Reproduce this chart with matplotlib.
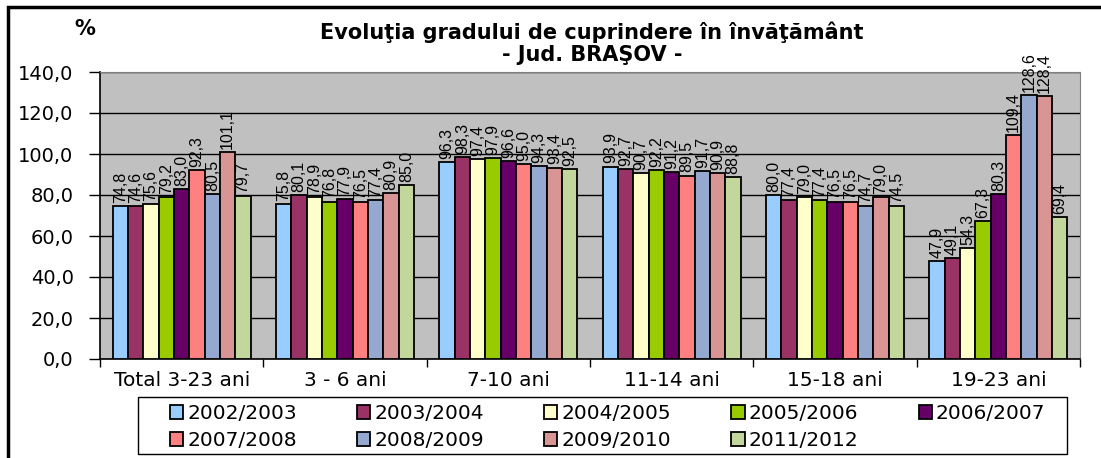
import numpy as np
import matplotlib
matplotlib.use("Agg")
import matplotlib.pyplot as plt
from matplotlib.patches import Rectangle

plt.rcParams['font.family'] = ['DejaVu Sans']

categories = ["Total 3-23 ani", "3 - 6 ani", "7-10 ani", "11-14 ani", "15-18 ani", "19-23 ani"]
years = ["2002/2003", "2003/2004", "2004/2005", "2005/2006", "2006/2007",
         "2007/2008", "2008/2009", "2009/2010", "2011/2012"]

# one list per school year, values per age group
y2002 = [74.8, 75.8, 96.3, 93.9, 80.0, 47.9]
y2003 = [74.6, 80.1, 98.3, 92.7, 77.4, 49.1]
y2004 = [75.6, 78.9, 97.4, 90.7, 79.0, 54.3]
y2005 = [79.2, 76.8, 97.9, 92.2, 77.4, 67.3]
y2006 = [83.0, 77.9, 96.6, 91.2, 76.5, 80.3]
y2007 = [92.3, 76.5, 95.0, 89.5, 76.5, 109.4]
y2008 = [80.5, 77.4, 94.3, 91.7, 74.7, 128.6]
y2009 = [101.1, 80.9, 93.4, 90.9, 79.0, 128.4]
y2011 = [79.7, 85.0, 92.5, 88.8, 74.5, 69.4]
series = [y2002, y2003, y2004, y2005, y2006, y2007, y2008, y2009, y2011]

colors = ["#99CCFF", "#993366", "#FFFFCC", "#99CC00", "#660066",
          "#FF8080", "#95A9D0", "#D99594", "#C3D69B"]

W, H = 1101, 458
fig = plt.figure(figsize=(W / 100, H / 100), dpi=100)
ax = fig.add_axes([100 / W, 1 - 359 / H, 980 / W, 287 / H])
ax.set_facecolor("#C0C0C0")

x = np.arange(len(categories))
bw = 0.094
n = len(series)
bars = []
for i, vals in enumerate(series):
    pos = x - bw * (n - 1) / 2 + i * bw
    b = ax.bar(pos, vals, width=bw, color=colors[i], edgecolor="black",
               linewidth=1.3, label=years[i], zorder=3)
    bars.append(b)
    for px, v in zip(pos, vals):
        ax.text(px, v + 1.5, f"{v:.1f}".replace(".", ","), rotation=90,
                ha="center", va="bottom", fontsize=11.5, zorder=4,
                family="Liberation Sans")

ax.set_ylim(0, 140)
ax.set_xlim(-0.5, len(categories) - 0.5)
yt = np.arange(0, 141, 20)
ax.set_yticks(yt)
ax.set_yticklabels([f"{v:.1f}".replace(".", ",") for v in yt], fontsize=14)
ax.yaxis.grid(True, color="black", linewidth=1, zorder=1)
ax.set_axisbelow(True)

ax.set_xticks(x)
ax.set_xticklabels(categories, fontsize=14.5)
ax.set_xticks(np.arange(-0.5, len(categories)), minor=True)
ax.tick_params(axis="x", which="major", length=0, pad=9)
ax.tick_params(axis="x", which="minor", length=6, width=1, direction="out")
ax.tick_params(axis="y", length=8, width=1, direction="out", pad=11)

for s in ["top", "right"]:
    ax.spines[s].set_color("#808080")
ax.spines["left"].set_linewidth(1.2)
ax.spines["bottom"].set_linewidth(1.2)

fig.text(592 / W, 1 - 32 / H, "Evoluţia gradului de cuprindere în învăţământ",
         ha="center", va="center", fontsize=15, fontweight="bold")
fig.text(592 / W, 1 - 55 / H, "- Jud. BRAŞOV -",
         ha="center", va="center", fontsize=15, fontweight="bold")
fig.text(85 / W, 1 - 29 / H, "%", ha="center", va="center", fontsize=15, fontweight="bold")

# legend filled row by row: 5 years on the first row, 4 on the second
order = [0, 5, 1, 6, 2, 7, 3, 8, 4]
leg = fig.legend([bars[k] for k in order], [years[k] for k in order],
                 loc="center left", ncol=5, bbox_to_anchor=(170 / W, 1 - 427 / H),
                 fontsize=14.5, frameon=False, borderpad=0, borderaxespad=0,
                 handlelength=0.65, handleheight=0.65, handletextpad=0.2,
                 labelspacing=0.4, columnspacing=3.0)
fig.patches.append(Rectangle((138 / W, 1 - 454 / H), 929 / W, 57 / H,
                             transform=fig.transFigure, fill=False,
                             edgecolor="black", linewidth=1))

# outer frame of the figure box
fig.patches.append(Rectangle((8 / W, -0.1), 1.2, 1 - 7 / H + 0.1, transform=fig.transFigure,
                             fill=False, edgecolor="black", linewidth=2.5))

fig.savefig("out.png", dpi=100)
